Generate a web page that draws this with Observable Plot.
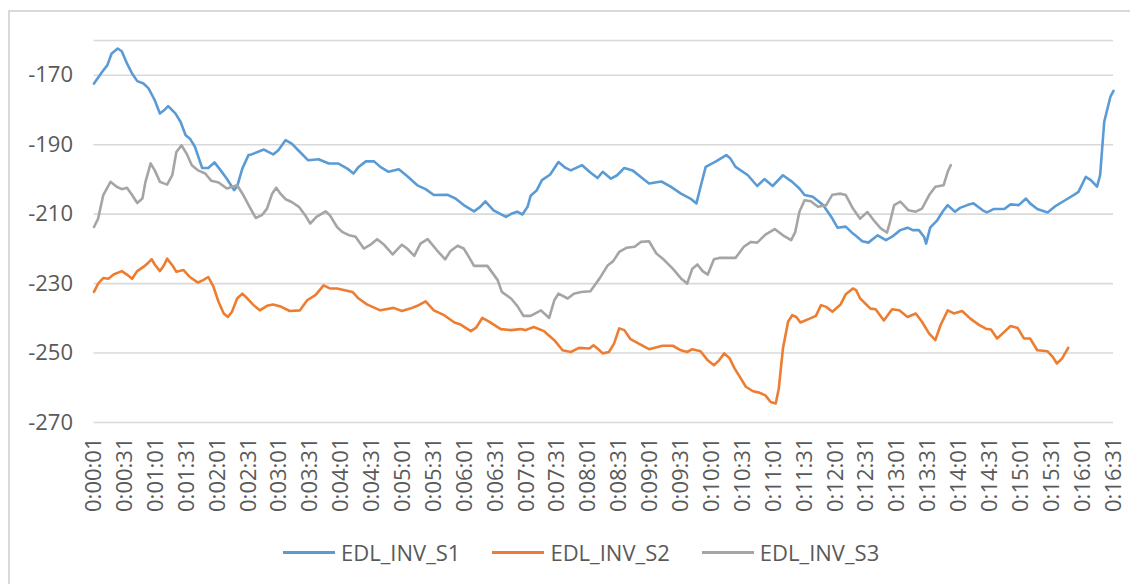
<!DOCTYPE html>
<html>
<head>
<meta charset="utf-8">
<script src="https://cdn.jsdelivr.net/npm/d3@7"></script>
<script src="https://cdn.jsdelivr.net/npm/@observablehq/plot@0.6"></script>
<style>
  html, body { margin: 0; padding: 0; background: #fff; }
  #wrap { position: relative; width: 1130px; height: 584px; overflow: hidden; font-family: "Open Sans", sans-serif; }
  #frame { position: absolute; left: 8px; top: 10px; width: 1200px; height: 700px; border-left: 2px solid #d9d9d9; border-top: 2px solid #d9d9d9; pointer-events: none; z-index: 2; }
  #legend { position: absolute; left: 283px; top: 536px; height: 32px; display: flex; align-items: center; font-size: 22px; color: #595959; white-space: nowrap; }
  .item { display: flex; align-items: center; margin-right: 32px; }
  .swatch { width: 52px; height: 3px; margin-right: 6px; }
</style>
</head>
<body>
<div id="wrap"><div id="frame"></div><div id="chart"></div><div id="legend"></div></div>
<script>
const seriesNames = ["EDL_INV_S1", "EDL_INV_S2", "EDL_INV_S3"];
const seriesColors = ["#5b9bd5", "#ed7d31", "#a5a5a5"];

const tickLabels = ["0:00:01","0:00:31","0:01:01","0:01:31","0:02:01","0:02:31","0:03:01","0:03:31","0:04:01","0:04:31","0:05:01","0:05:31","0:06:01","0:06:31","0:07:01","0:07:31","0:08:01","0:08:31","0:09:01","0:09:31","0:10:01","0:10:31","0:11:01","0:11:31","0:12:01","0:12:31","0:13:01","0:13:31","0:14:01","0:14:31","0:15:01","0:15:31","0:16:01","0:16:31"];
const yTicks = [-270, -250, -230, -210, -190, -170];
const yGrid = [-270, -250, -230, -210, -190, -170, -160];

// seconds elapsed since 0:00:01
const s1Time = [0,8,13,17,23,27,32,37,42,48,53,59,64,68,72,79,84,89,93,98,105,111,117,123,129,136,139,144,150,153,165,174,179,186,192,200,208,218,228,237,246,252,257,264,272,278,286,296,304,314,322,330,343,351,359,369,375,380,388,400,406,411,416,421,424,430,435,443,451,458,463,474,482,489,494,502,508,515,523,531,539,551,560,570,580,585,589,594,604,614,618,623,635,644,651,659,669,678,685,690,698,708,716,722,730,737,741,746,752,761,769,775,783,790,795,801,806,808,812,819,824,829,836,841,848,854,863,867,874,884,890,898,905,909,916,926,934,943,952,956,963,968,974,977,981,987,990];
const s1Value = [-172.4,-169,-167.1,-163.8,-162.3,-163.1,-166.6,-169.5,-171.7,-172.4,-173.8,-177.2,-181,-180.1,-178.9,-181,-183.4,-187.3,-188.2,-190.6,-196.7,-196.7,-195.1,-197.4,-199.8,-203.1,-202.1,-196.9,-193,-192.8,-191.4,-192.8,-191.6,-188.7,-189.7,-192.1,-194.5,-194.2,-195.4,-195.4,-196.9,-198.3,-196.4,-194.8,-194.8,-196.4,-197.8,-197.1,-199,-201.7,-202.8,-204.5,-204.4,-205.5,-207.4,-209.2,-207.9,-206.3,-208.9,-210.8,-209.8,-209.3,-210.1,-207.9,-204.7,-203.1,-200.2,-198.6,-195,-196.7,-197.4,-195.9,-198,-199.6,-197.8,-199.8,-198.8,-196.7,-197.4,-199.3,-201.2,-200.6,-202.1,-204.1,-205.7,-206.9,-202.1,-196.4,-194.8,-193,-194,-196.4,-198.8,-201.9,-199.9,-201.9,-198.8,-200.7,-202.6,-204.5,-205,-207.4,-210.8,-213.9,-213.6,-215.6,-216.5,-217.8,-218.2,-216.1,-217.5,-216.5,-214.6,-213.9,-214.6,-214.6,-216.5,-218.5,-213.9,-211.7,-209.3,-207.4,-209.3,-208.2,-207.4,-206.9,-208.9,-209.5,-208.5,-208.5,-207.2,-207.4,-205.5,-206.9,-208.5,-209.5,-207.6,-206,-204.4,-203.6,-199.3,-200.2,-202.1,-198.8,-183.4,-176.2,-174.5];

const s2Time = [0,4,9,14,19,27,32,37,42,48,53,56,59,64,68,71,76,80,87,93,101,106,111,116,121,126,130,134,139,144,149,155,161,168,174,182,190,200,207,215,223,229,236,251,257,265,278,291,299,307,314,322,330,340,350,356,366,371,377,384,395,405,414,419,427,437,447,455,463,471,481,485,489,494,500,505,510,515,521,529,539,552,562,570,576,581,589,596,602,607,612,617,622,627,633,640,646,652,657,662,665,669,674,678,682,686,695,701,706,711,717,725,730,737,740,744,754,759,767,775,782,790,798,804,811,817,822,829,835,843,851,859,866,871,877,884,890,897,903,909,916,926,931,935,940,946];
const s2Value = [-232.4,-230,-228.4,-228.6,-227.4,-226.4,-227.4,-228.6,-226.4,-225.2,-223.9,-223,-224.5,-226.4,-224.7,-222.8,-224.7,-226.6,-226.1,-228.1,-229.7,-229,-228.1,-230.9,-235.3,-238.6,-239.6,-238.1,-234.3,-232.9,-234.3,-236.2,-237.7,-236.4,-236,-236.7,-237.9,-237.7,-234.8,-233.3,-230.5,-231.4,-231.4,-232.4,-234.3,-236,-237.7,-237,-237.9,-237.2,-236.4,-235.1,-237.7,-239.1,-241.2,-241.8,-243.7,-242.7,-239.9,-241,-243.1,-243.4,-243.1,-243.4,-242.5,-243.7,-246.3,-249.2,-249.7,-248.5,-248.7,-247.8,-248.7,-250.1,-249.7,-247.3,-242.9,-243.4,-246,-247.3,-248.9,-247.9,-247.9,-249.2,-249.7,-248.9,-249.5,-252.1,-253.5,-252.1,-250.1,-251.4,-254.4,-256.8,-259.7,-261,-261.4,-262.2,-264.1,-264.5,-260.2,-248.7,-241,-239.1,-239.6,-241.2,-240.1,-239.3,-236.2,-236.7,-238.1,-236,-233.1,-231.4,-231.9,-234.3,-237.2,-237.4,-240.6,-237.4,-237.7,-239.6,-238.6,-241,-244.4,-246.3,-242,-237.7,-238.6,-237.9,-240.1,-241.8,-243,-243.2,-245.8,-243.9,-242.2,-242.8,-245.8,-245.8,-249.2,-249.5,-251.1,-253,-251.6,-248.5];

const s3Time = [0,4,9,16,22,27,32,37,42,47,50,55,59,64,71,76,80,85,90,95,101,108,114,121,129,139,145,152,157,163,168,173,177,181,186,192,199,205,210,216,225,229,236,241,248,254,262,269,275,282,290,299,304,311,317,324,333,341,346,353,359,364,369,382,392,396,405,411,417,424,434,442,447,451,460,466,473,482,491,499,504,510,517,525,531,539,546,554,562,570,576,581,586,591,596,602,607,623,631,638,644,652,661,669,677,681,685,690,696,703,711,717,725,730,737,744,751,757,764,770,773,777,783,791,798,804,811,817,825,829,832];
const s3Value = [-213.7,-211.3,-204.5,-200.7,-202.1,-202.8,-202.4,-204.5,-206.8,-205.5,-200.7,-195.4,-197.4,-200.7,-201.5,-198.8,-192.1,-190.2,-192.6,-195.9,-197.4,-198.3,-200.4,-200.9,-202.6,-201.7,-204.5,-208.4,-211.1,-210.3,-208.4,-204.1,-202.4,-204.1,-205.7,-206.5,-207.9,-210.3,-212.7,-210.8,-209.2,-210.3,-213.7,-215.1,-216.1,-216.5,-219.9,-218.7,-217.2,-218.9,-221.6,-218.8,-219.9,-222,-218.5,-217.2,-220.4,-223,-220.7,-219.1,-219.9,-222.3,-224.9,-224.9,-229,-232.4,-234.3,-236.4,-239.3,-239.3,-237.7,-239.9,-234.8,-232.9,-234.3,-232.9,-232.4,-232.2,-228.5,-224.7,-223.6,-220.9,-219.7,-219.4,-218,-217.8,-221.3,-223.3,-225.7,-228.5,-230,-225.7,-224.5,-226.4,-227.4,-223,-222.6,-222.6,-219.4,-218,-218.2,-215.9,-214.3,-216.1,-217.5,-215.1,-209.3,-206,-206.3,-207.9,-207.4,-204.4,-204.1,-204.5,-208.4,-211.3,-209.4,-211.7,-214.1,-215.3,-212.2,-207.4,-206.4,-208.9,-209.3,-208.4,-204.5,-202.1,-201.7,-197.8,-195.9];

const times = [s1Time, s2Time, s3Time];
const values = [s1Value, s2Value, s3Value];
const data = [];
seriesNames.forEach((name, k) => {
  times[k].forEach((t, i) => data.push({series: name, t, v: values[k][i]}));
});

const toSec = s => { const [h, m, sec] = s.split(":").map(Number); return h * 3600 + m * 60 + sec - 1; };
const tickSeconds = tickLabels.map(toSec);
const labelBySec = new Map(tickSeconds.map((s, i) => [s, tickLabels[i]]));

const chart = Plot.plot({
  width: 1130,
  height: 530,
  marginLeft: 93.5,
  marginRight: 17,
  marginTop: 40,
  marginBottom: 108,
  style: {fontFamily: "'Open Sans', sans-serif", fontSize: "22px", color: "#595959", background: "transparent", overflow: "visible"},
  x: {domain: [0, 990], label: null},
  y: {domain: [-270, -160], label: null},
  color: {domain: seriesNames, range: seriesColors},
  marks: [
    Plot.ruleY(yGrid, {stroke: "#d9d9d9", strokeWidth: 1.6}),
    Plot.axisY(yTicks, {tickSize: 0, tickPadding: 21, fontSize: 22, label: null, tickFormat: d => String(d)}),
    Plot.axisX(tickSeconds, {tickSize: 0, tickPadding: 15, tickRotate: -90, fontSize: 22, label: null, tickFormat: d => labelBySec.get(d)}),
    Plot.line(data, {x: "t", y: "v", z: "series", stroke: "series", strokeWidth: 2.6, strokeLinejoin: "round", strokeLinecap: "round"})
  ]
});
document.getElementById("chart").appendChild(chart);

const legend = document.getElementById("legend");
seriesNames.forEach((name, k) => {
  const item = document.createElement("div");
  item.className = "item";
  const sw = document.createElement("span");
  sw.className = "swatch";
  sw.style.background = seriesColors[k];
  const tx = document.createElement("span");
  tx.textContent = name;
  item.appendChild(sw);
  item.appendChild(tx);
  legend.appendChild(item);
});
</script>
</body>
</html>
